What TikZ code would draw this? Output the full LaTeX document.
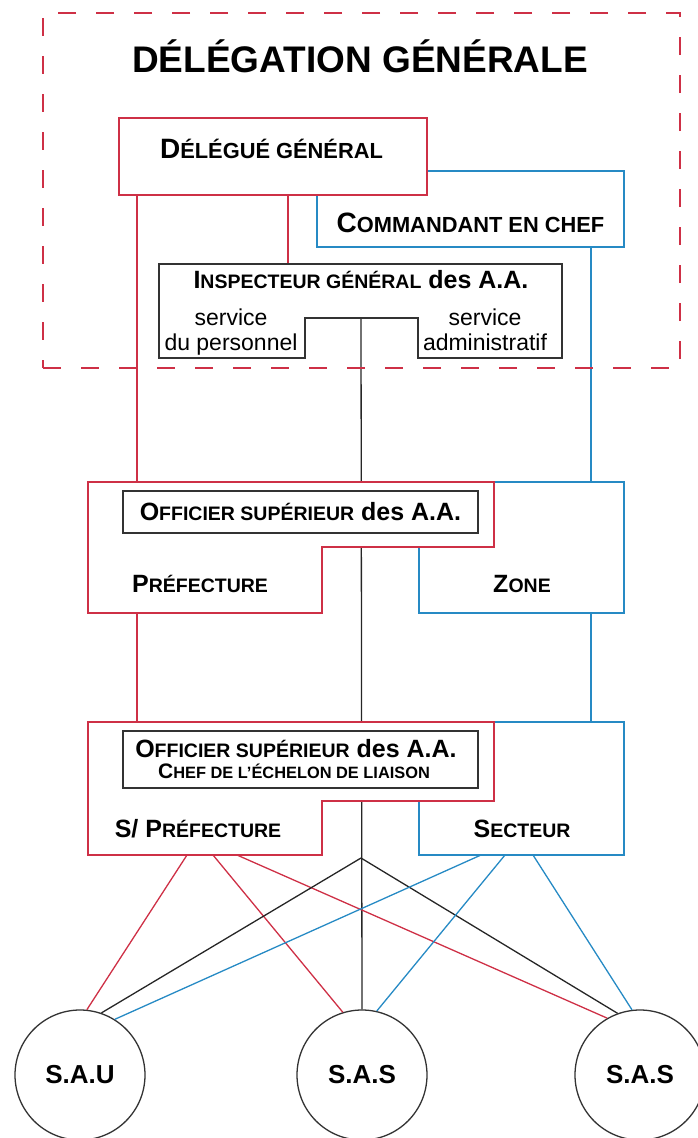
\documentclass[tikz,border=0pt]{standalone}
\usepackage{fontspec}
\setmainfont{Liberation Sans}
\usepackage{xcolor}
\usepackage{tikz}
\usetikzlibrary{positioning}
\definecolor{orgred}{RGB}{206,48,70}
\definecolor{orgblue}{RGB}{38,138,196}
\newcommand{\pc}[1]{{\fontsize{0.78em}{1em}\selectfont #1}}

\begin{document}
\begin{tikzpicture}[x=1pt,y=-1pt,line join=miter,
  redbox/.style={draw=orgred,line width=1.6pt,fill=white,inner sep=0pt},
  bluebox/.style={draw=orgblue,line width=1.6pt,fill=white,inner sep=0pt},
  blackbox/.style={draw=black!80,line width=1.5pt,fill=white,inner sep=0pt},
  redline/.style={draw=orgred,line width=1.3pt},
  blueline/.style={draw=orgblue,line width=1.3pt},
  blackline/.style={draw=black!85,line width=1.3pt},
  frame/.style={draw=orgred,line width=1.6pt,dash pattern=on 18pt off 20pt,inner sep=0pt},
  lbl/.style={inner sep=0pt,anchor=base,font=\bfseries\fontsize{#1}{#1}\selectfont},
  svc/.style={inner sep=0pt,anchor=base,font=\fontsize{23}{23}\selectfont},
  sas/.style={circle,draw=black!80,line width=1.3pt,minimum size=130pt,fill=white,
    font=\bfseries\fontsize{26}{26}\selectfont}]
\useasboundingbox (0,0) rectangle (698,1138);
%%%%%%%%%%%%%%
\coordinate (dgL) at (137,195);
\coordinate (dgM) at (288,195);
\coordinate (igT) at (288,264);
\coordinate (cmdB) at (591,247);
\coordinate (igN) at (361,318);
\coordinate (prT) at (137,482);
\coordinate (prB) at (137,613);
\coordinate (znT) at (591,482);
\coordinate (znB) at (591,613);
\coordinate (spT) at (137,722);
\coordinate (scT) at (591,722);
\coordinate (hub) at (361,858);
\coordinate (sp1) at (187,855);
\coordinate (sp2) at (213,855);
\coordinate (sp3) at (237,855);
\coordinate (sc1) at (481,855);
\coordinate (sc2) at (505,855);
\coordinate (sc3) at (533,855);
%%%%%%%%%%%%%%
\node[sas] (sau) at (80,1075) {S.A.U};
\node[sas] (sasm) at (362,1075) {S.A.S};
\node[sas] (sasr) at (640,1075) {S.A.S};
%%%%%%%%%%%%%%
\draw[redline] (dgL) -- (prT);
\draw[redline] (dgM) -- (igT);
\draw[redline] (prB) -- (spT);
\draw[blueline] (cmdB) -- (znT);
\draw[blueline] (znB) -- (scT);
\draw[blackline] (igN) -- (sasm.north);
\draw[redline] (sp1) -- (sau.84);
\draw[redline] (sp2) -- (sasm.107);
\draw[redline] (sp3) -- (sasr.120);
\draw[blackline] (hub) -- (sau.71);
\draw[blackline] (hub) -- (sasr.110);
\draw[blueline] (sc1) -- (sau.58);
\draw[blueline] (sc2) -- (sasm.77);
\draw[blueline] (sc3) -- (sasr.97);
%%%%%%%%%%%%%%
\node[frame,minimum width=637pt,minimum height=355pt] (dgframe) at (361.5,190.5) {};
\node[lbl=37] (title) at (360,72) {DÉLÉGATION GÉNÉRALE};
\node[bluebox,minimum width=307pt,minimum height=76pt] (cmd) at (470.5,209) {};
\node[redbox,minimum width=308pt,minimum height=77pt] (deleg) at (273,156.5) {};
\node[lbl=28] (delegtxt) at (271.5,158) {D\pc{ÉLÉGUÉ GÉNÉRAL}};
\node[lbl=28] (cmdtxt) at (470.5,232) {C\pc{OMMANDANT EN CHEF}};
\draw[blackbox] (159,264) -- (562,264) -- (562,358) -- (418,358) -- (418,318)
  -- (305,318) -- (305,358) -- (159,358) -- cycle;
\node[lbl=25] (igtxt) at (361,288) {I\pc{NSPECTEUR GÉNÉRAL} des A.A.};
\node[svc] (perso1) at (231,325) {service};
\node[svc] (perso2) at (231,350) {du personnel};
\node[svc] (admin1) at (485,325) {service};
\node[svc] (admin2) at (485,350) {administratif};
%%%%%%%%%%%%%%
\node[bluebox,minimum width=205pt,minimum height=131pt] (zone) at (521.5,547.5) {};
\draw[redbox] (88,482) -- (494,482) -- (494,547) -- (322,547) -- (322,613)
  -- (88,613) -- cycle;
\node[blackbox,minimum width=355pt,minimum height=42pt] (offpr) at (300.5,512) {};
\node[lbl=25] (offprtxt) at (300.5,520) {O\pc{FFICIER SUPÉRIEUR} des A.A.};
\node[lbl=25] (preftxt) at (200,592) {P\pc{RÉFECTURE}};
\node[lbl=25] (zonetxt) at (522,592) {Z\pc{ONE}};
%%%%%%%%%%%%%%
\node[bluebox,minimum width=205pt,minimum height=133pt] (secteur) at (521.5,788.5) {};
\draw[redbox] (88,722) -- (494,722) -- (494,801) -- (322,801) -- (322,855)
  -- (88,855) -- cycle;
\node[blackbox,minimum width=355pt,minimum height=57pt] (offsp) at (300.5,759.5) {};
\node[lbl=25] (offsptxt) at (296,757) {O\pc{FFICIER SUPÉRIEUR} des A.A.};
\node[lbl=21] (cheftxt) at (294,778) {C\pc{HEF DE L'ÉCHELON DE LIAISON}};
\node[lbl=25] (sprtxt) at (198,837) {S/ P\pc{RÉFECTURE}};
\node[lbl=25] (sectxt) at (522,837) {S\pc{ECTEUR}};
\end{tikzpicture}
\end{document}
